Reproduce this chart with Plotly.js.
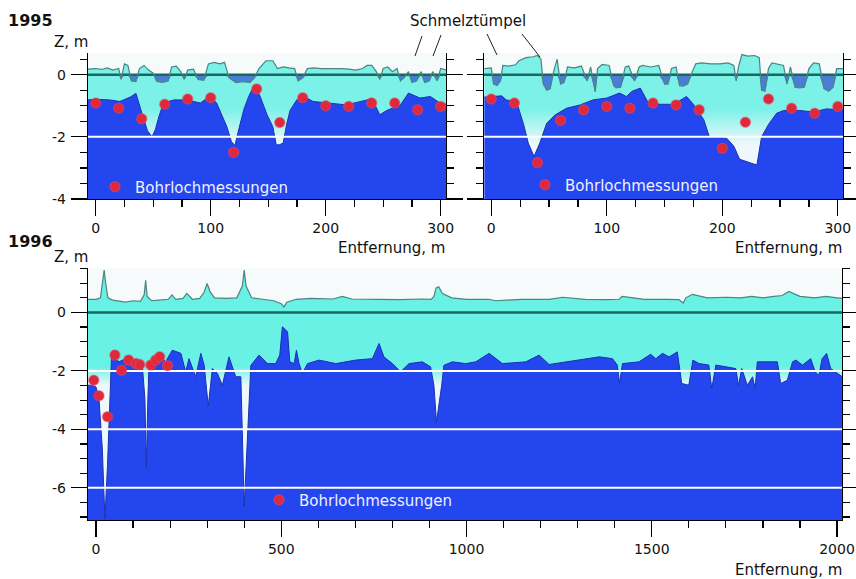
<!DOCTYPE html>
<html>
<head>
<meta charset="utf-8">
<script src="https://cdn.plot.ly/plotly-3.0.1.min.js"></script>
<style>html,body{margin:0;padding:0;background:#fff;}#chart{width:856px;height:579px;}</style>
</head>
<body>
<div id="chart"></div>
<script>
// ---------------- DATA ----------------
// 1995, left profile
const surf95aX = [-7,0,5,10,15,20,22,25,28,31,35,38,42,46,50,53,58,63,66,70,74,77,80,85,89,94,98,103,108,112,116,122,128,134,138,142,148,154,158,163,168,173,176,180,184,190,196,202,208,214,220,226,232,236,240,244,247,250,254,258,262,265,268,272,275,279,283,286,290,293,297,300,305];
const surf95aZ = [0.18,0.2,0.17,0.22,0.15,0.2,-0.15,0.35,0.3,-0.2,-0.22,0.2,0.3,0.15,0.05,-0.22,-0.25,-0.2,0.25,0.28,0.1,-0.15,0.15,0.18,-0.15,-0.18,0.35,0.4,0.35,0.4,-0.1,-0.25,-0.22,-0.25,-0.1,0.2,0.45,0.45,0.2,0.25,0.22,0.2,-0.2,-0.1,0.2,0.22,0.2,0.2,0.22,0.2,0.18,0.15,0.2,0.3,0.3,0.1,-0.15,0.2,0.25,0.1,0.2,-0.2,-0.1,0.1,-0.25,-0.2,0.1,-0.25,-0.2,0.1,-0.2,0.2,0.15];
const ice95aX = [-7,0,12,21,30,35,41,45,49,52,55,59,68,79,91,99,105,110,114,118,121,125,129,133,138,143,149,154,157,160,163,166,169,175,180,189,201,218,236,240,247,253,265,272,282,291,299,305];
const ice95aZ = [-0.81,-0.79,-0.81,-0.86,-0.72,-0.6,-1.34,-1.8,-2.0,-1.75,-1.34,-0.91,-0.81,-0.81,-0.91,-0.7,-0.9,-1.3,-1.67,-2.15,-2.28,-1.67,-1.1,-0.7,-0.32,-0.7,-1.29,-1.67,-2.26,-2.25,-2.2,-1.6,-1.15,-0.8,-0.68,-0.86,-0.91,-0.97,-0.81,-0.75,-1.29,-1.15,-0.97,-0.59,-0.75,-0.7,-0.9,-0.95];
const bore95aX = [0,20,40,60,80,100,120,140,160,180,200,220,240,260,280,300];
const bore95aZ = [-0.91,-1.08,-1.42,-0.95,-0.78,-0.74,-2.5,-0.46,-1.54,-0.74,-1.0,-1.02,-0.91,-0.91,-1.13,-1.02];

// 1995, right profile
const surf95bX = [-6,0,2,5,8,10,15,21,24,30,36,40,43,45,48,51,54,57,60,63,66,72,78,83,86,90,92,96,102,106,108,112,116,119,124,128,131,134,138,145,150,153,156,160,163,166,170,174,177,182,190,198,205,210,212,214,217,222,228,232,234,237,240,243,248,253,256,259,263,267,271,275,279,284,288,292,296,299,305];
const surf95bZ = [0.2,0.22,-0.3,-0.35,-0.2,0.3,0.28,0.32,0.45,0.55,0.58,0.62,0.5,-0.3,-0.5,-0.45,0.1,0.5,-0.3,-0.25,0.25,0.22,0.28,-0.2,0.25,-0.55,0.2,0.33,0.3,-0.35,-0.42,-0.4,0.25,0.28,-0.2,0.25,0.3,0.28,0.25,0.3,-0.3,-0.3,0.2,0.25,-0.35,-0.37,-0.3,0.1,0.35,0.38,0.35,0.35,0.38,0.3,-0.2,0.25,0.65,0.6,0.62,0.55,-0.5,-0.53,0.2,0.38,0.35,0.3,-0.3,0.25,-0.4,-0.42,-0.4,0.2,0.38,0.35,-0.45,-0.53,-0.4,0.2,0.2];
const ice95bX = [-6,0,9,13,19,23,28,32,37,42,48,55,65,77,88,100,111,117,122,129,136,146,158,169,175,184,189,195,204,210,215,227,230,234,240,247,253,267,279,290,305];
const ice95bZ = [-0.72,-0.7,-0.68,-0.81,-0.85,-1.0,-1.6,-2.2,-2.63,-2.2,-1.56,-1.3,-1.08,-0.97,-0.81,-0.75,-0.59,-0.7,-0.53,-0.43,-0.91,-0.95,-0.95,-0.7,-0.95,-1.45,-2.02,-2.0,-2.05,-2.3,-2.72,-2.87,-2.9,-2.0,-1.6,-1.24,-1.15,-1.15,-1.2,-1.1,-1.13];
const bore95bX = [0,20,40,60,80,100,120,140,160,180,200,220,240,260,280,300];
const bore95bZ = [-0.78,-0.91,-2.83,-1.47,-1.13,-1.02,-1.08,-0.91,-0.97,-1.13,-2.37,-1.53,-0.78,-1.08,-1.24,-1.02];

// 1996 profile
const surf96X = [-22,0,12,18,22,26,32,45,60,80,100,120,130,134,138,150,170,195,205,215,235,245,260,280,292,300,308,320,350,380,395,400,405,420,450,480,500,507,515,540,580,640,665,690,760,820,880,905,912,918,925,935,960,1000,1060,1080,1150,1223,1260,1320,1380,1412,1420,1480,1540,1573,1585,1592,1610,1650,1700,1740,1770,1800,1830,1852,1870,1900,1940,1970,2000,2014];
const surf96Z = [0.45,0.45,0.5,1.0,1.45,1.0,0.5,0.42,0.38,0.35,0.4,0.38,0.6,1.1,0.55,0.4,0.42,0.45,0.6,0.45,0.48,0.65,0.45,0.48,0.7,0.99,0.7,0.5,0.48,0.5,0.9,1.45,0.9,0.5,0.45,0.4,0.3,0.19,0.35,0.45,0.48,0.46,0.55,0.46,0.45,0.44,0.46,0.45,0.55,0.84,0.88,0.65,0.5,0.45,0.45,0.4,0.45,0.45,0.52,0.45,0.44,0.45,0.55,0.45,0.45,0.44,0.32,0.5,0.62,0.5,0.52,0.5,0.55,0.5,0.55,0.58,0.72,0.55,0.5,0.55,0.5,0.48,0.5];
const ice96X = [-22,-10,0,8,17,24,31,37,42,62,80,107,125,132,136,140,143,170,188,206,229,242,251,269,283,292,303,314,328,341,359,377,391,400,409,418,440,463,485,496,503,517,523,535,541,548,557,571,602,647,701,746,764,777,800,822,845,881,903,912,919,926,933,939,962,998,1025,1061,1097,1160,1196,1223,1268,1304,1358,1394,1407,1413,1421,1466,1497,1511,1529,1547,1569,1581,1600,1611,1628,1654,1662,1673,1700,1727,1734,1743,1758,1772,1779,1785,1817,1839,1848,1866,1880,1889,1907,1929,1941,1951,1960,1972,1983,2014];
const ice96Z = [-2.49,-2.49,-2.55,-2.95,-4.66,-7.05,-5.23,-2.95,-1.46,-1.69,-1.58,-1.69,-1.81,-2.95,-5.3,-2.95,-1.81,-1.46,-1.69,-1.29,-1.40,-2.03,-1.58,-2.2,-1.40,-1.81,-3.2,-1.92,-2.09,-2.49,-1.52,-2.2,-2.2,-6.65,-4.09,-1.81,-1.46,-1.75,-1.75,-1.46,-0.49,-0.66,-1.69,-1.75,-1.29,-1.75,-2.09,-1.75,-1.63,-1.75,-1.63,-1.58,-1.06,-1.52,-1.75,-2.03,-1.75,-1.69,-1.86,-2.49,-3.75,-3.2,-2.49,-1.81,-1.69,-1.75,-1.69,-1.40,-1.75,-1.69,-1.46,-1.78,-1.69,-1.63,-1.52,-1.58,-1.8,-2.43,-1.75,-1.69,-1.43,-1.58,-1.40,-1.52,-1.35,-2.43,-2.49,-1.63,-1.75,-1.80,-2.60,-1.80,-1.86,-1.92,-2.49,-1.92,-2.49,-2.2,-2.60,-1.69,-1.69,-1.69,-2.43,-2.32,-1.69,-1.63,-1.80,-1.58,-2.03,-2.15,-1.58,-1.40,-1.92,-2.2];
const bore96X = [-6,8,31,51,69,88,108,118,148,161,172,193];
const bore96Z = [-2.32,-2.85,-3.57,-1.46,-1.98,-1.63,-1.75,-1.78,-1.8,-1.63,-1.52,-1.82];

// tick labels
const yTickVals95 = [0,-2,-4];
const yTickText95 = ['0','-2','-4'];
const yTickVals96 = [0,-2,-4,-6];
const yTickText96 = ['0','-2','-4','-6'];

const legendName = 'Bohrlochmessungen';
const xLabel = 'Entfernung, m';
const yLabel = 'Z, m';

// ---------------- STYLE ----------------
const FONT = 'DejaVu Sans, sans-serif';
const C_ICE = '#2446ef';
const C_ICE_EDGE = '#1a32b0';
const C_POND = '#4a7ed6';
const C_SURF = '#4a8580';
const C_ZERO = '#18685f';
const C_DOT = '#e0283c';
const W = 856, H = 579;
const px = v => v / W, py = v => 1 - v / H;

const ranges = {
  x: [-6.7, 304.6], x2: [-6.3, 304.5], x3: [-21.6, 2013.5],
  y: [-4, 0.7], y2: [-4, 0.7], y3: [-7.1, 1.52]
};

function panel(xa, ya, sX, sZ, iX, iZ, bX, bZ, grids, legendId, grad) {
  const yMin = ranges[ya][0];
  const xr = ranges[xa];
  const common = {xaxis: xa, yaxis: ya, hoverinfo: 'skip', showlegend: false, mode: 'lines'};
  const t = [];
  t.push(Object.assign({}, common, {x: sX, y: sX.map(() => yMin), line: {width: 0}}));
  t.push(Object.assign({}, common, {x: sX, y: sZ, line: {width: 0}, fill: 'tonexty', fillcolor: '#6ff1e6',
    fillgradient: {type: 'vertical', colorscale: [[0, '#eef8fc'], [1, grad[2]]], start: grad[0], stop: grad[1]}}));
  t.push(Object.assign({}, common, {x: sX, y: sX.map(() => 0), line: {width: 0}}));
  t.push(Object.assign({}, common, {x: sX, y: sZ.map(v => Math.min(v, 0)), line: {width: 0}, fill: 'tonexty', fillcolor: C_POND}));
  t.push(Object.assign({}, common, {x: iX, y: iX.map(() => yMin), line: {width: 0}}));
  t.push(Object.assign({}, common, {x: iX, y: iZ, line: {width: 1, color: C_ICE_EDGE}, fill: 'tonexty', fillcolor: C_ICE}));
  grids.forEach(g => t.push(Object.assign({}, common, {x: xr, y: [g, g], line: {width: 2, color: '#ffffff'}})));
  t.push(Object.assign({}, common, {x: xr, y: [0, 0], line: {width: 2.5, color: C_ZERO}}));
  t.push(Object.assign({}, common, {x: sX, y: sZ, line: {width: 1.2, color: C_SURF}}));
  t.push({x: bX, y: bZ, xaxis: xa, yaxis: ya, mode: 'markers', name: legendName, legend: legendId,
    showlegend: true, hoverinfo: 'x+y',
    marker: {size: 10, color: C_DOT, line: {width: 1.5, color: 'rgba(230,70,90,0.5)'}}});
  return t;
}

const data = [].concat(
  panel('x', 'y', surf95aX, surf95aZ, ice95aX, ice95aZ, bore95aX, bore95aZ, [-2], 'legend', [-2.25, -1.1, '#7cf1e8']),
  panel('x2', 'y2', surf95bX, surf95bZ, ice95bX, ice95bZ, bore95bX, bore95bZ, [-2], 'legend2', [-2.25, -1.1, '#7cf1e8']),
  panel('x3', 'y3', surf96X, surf96Z, ice96X, ice96Z, bore96X, bore96Z, [-2, -4, -6], 'legend3', [-2.5, -1.85, '#6af1e6'])
);

const axBase = {
  showline: true, linecolor: '#000', linewidth: 1.2, showgrid: false, zeroline: false,
  ticks: 'outside', ticklen: 16, tickwidth: 1.2, tickcolor: '#000',
  tickfont: {family: FONT, size: 14, color: '#111'}, automargin: false, fixedrange: true
};
function xAx(dom, r, anchor, dt, mdt) {
  return Object.assign({}, axBase, {domain: dom, range: r, anchor: anchor, tickmode: 'linear', tick0: 0, dtick: dt,
    minor: {ticks: 'outside', ticklen: 7, tickwidth: 1.2, tickcolor: '#000', tickmode: 'linear', tick0: 0, dtick: mdt, showgrid: false}});
}
function yAx(dom, r, anchor, tv, tt, showLab) {
  return Object.assign({}, axBase, {domain: dom, range: r, anchor: anchor, mirror: 'ticks',
    tickmode: 'array', tickvals: tv, ticktext: tt, showticklabels: showLab, ticklabelstandoff: 2,
    minor: {ticks: 'outside', ticklen: 7, tickwidth: 1.2, tickcolor: '#000', tickmode: 'linear', tick0: 0, dtick: 0.5, showgrid: false}});
}

const legBase = {bgcolor: 'rgba(0,0,0,0)', borderwidth: 0, xanchor: 'left', yanchor: 'middle',
  font: {family: FONT, size: 15, color: '#eef1ff'}, itemclick: false, itemdoubleclick: false};

const ann = (text, x, y, xa, ya, size, bold) => ({
  text: bold ? '<b>' + text + '</b>' : text, x: px(x), y: py(y), xref: 'paper', yref: 'paper',
  xanchor: xa, yanchor: ya, showarrow: false, font: {family: FONT, size: size, color: '#111'}
});

const slash = (x0, y0, x1, y1) => ({type: 'line', xref: 'paper', yref: 'paper',
  x0: px(x0), y0: py(y0), x1: px(x1), y1: py(y1), line: {color: '#222', width: 1}});

const layout = {
  width: W, height: H, margin: {l: 0, r: 0, t: 0, b: 0},
  paper_bgcolor: '#ffffff', plot_bgcolor: '#f6fafa',
  font: {family: FONT, size: 14, color: '#111'},
  showlegend: true,
  xaxis: xAx([px(88), px(446)], ranges.x, 'y', 100, 25),
  xaxis2: xAx([px(484), px(843)], ranges.x2, 'y2', 100, 25),
  xaxis3: xAx([px(88), px(842)], ranges.x3, 'y3', 500, 100),
  yaxis: yAx([py(199), py(53)], ranges.y, 'x', yTickVals95, yTickText95, true),
  yaxis2: yAx([py(199), py(53)], ranges.y2, 'x2', yTickVals95, yTickText95, false),
  yaxis3: yAx([py(520), py(268)], ranges.y3, 'x3', yTickVals96, yTickText96, true),
  legend: Object.assign({}, legBase, {x: px(95), y: py(187)}),
  legend2: Object.assign({}, legBase, {x: px(525), y: py(185)}),
  legend3: Object.assign({}, legBase, {x: px(259), y: py(500)}),
  annotations: [
    ann('1995', 6, 20, 'left', 'middle', 16, true),
    ann(yLabel, 71, 42, 'center', 'middle', 15, false),
    ann('Schmelztümpel', 468, 21, 'center', 'middle', 15, false),
    ann(xLabel, 447, 248, 'right', 'middle', 15, false),
    ann(xLabel, 844, 248, 'right', 'middle', 15, false),
    ann('1996', 6, 241, 'left', 'middle', 16, true),
    ann(yLabel, 71, 257, 'center', 'middle', 15, false),
    ann(xLabel, 844, 570, 'right', 'middle', 15, false)
  ],
  shapes: [
    slash(415, 56, 422, 36),
    slash(433, 56, 441, 35),
    slash(487, 34, 497, 55),
    slash(522, 34, 540, 57)
  ]
};

Plotly.newPlot('chart', data, layout, {displayModeBar: false, staticPlot: true});
</script>
</body>
</html>
